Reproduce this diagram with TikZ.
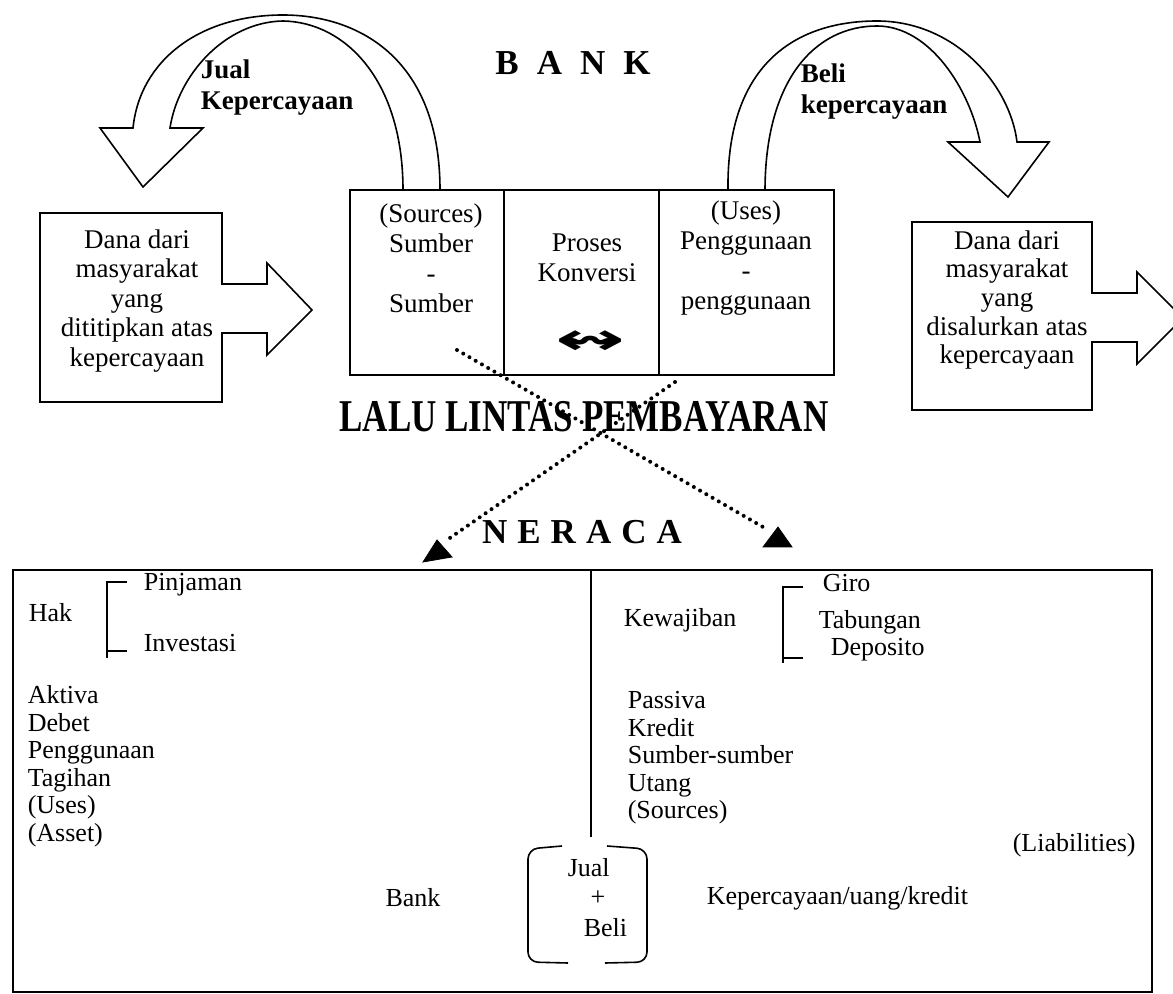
\documentclass[tikz,border=0pt]{standalone}
\usepackage{fontspec}
\setmainfont{Liberation Serif}
\newfontfamily\symfont{DejaVu Sans}
\begin{document}
\begin{tikzpicture}[x=0.5pt,y=-0.5pt,line width=0.8pt,
  txt/.style={inner sep=0pt,font=\fontsize{13}{13.75}\selectfont},
  boxtxt/.style={inner sep=0pt,align=center,font=\fontsize{13.5}{15}\selectfont},
  boldtxt/.style={inner sep=0pt,align=left,font=\bfseries\fontsize{13.5}{15.5}\selectfont},
  title/.style={inner sep=0pt,font=\bfseries\fontsize{17.5}{18}\selectfont},
  shapeline/.style={draw=black,fill=white,line width=0.8pt,line join=miter},
  dotline/.style={line width=2pt,line cap=round,dash pattern=on 0pt off 3.6pt},
  tri/.style={fill=black,draw=black,line width=0.4pt}]
\useasboundingbox (0,0) rectangle (1173,994);
\clip (0,0) rectangle (1173,994);

% curved arrows
\draw[shapeline] (440,190) .. controls (440,60) and (360,15) .. (283,15)
  .. controls (200,15) and (140,60) .. (133,128) -- (100,128) -- (143,187)
  -- (203,128) -- (170,128) .. controls (178,75) and (225,22) .. (283,21)
  .. controls (345,22) and (403,80) .. (403,190) -- cycle;
\draw[shapeline] (728,191) .. controls (726,60) and (800,21) .. (877,21)
  .. controls (955,21) and (1010,85) .. (1017,142) -- (1049,142) -- (1008,197)
  -- (948,142) -- (980,142) .. controls (970,90) and (930,26) .. (877,26)
  .. controls (815,26) and (765,80) .. (765,191) -- cycle;

% left box with arrow
\draw[shapeline] (40,213) -- (222,213) -- (222,284) -- (267,284) -- (267,263)
  -- (312,310) -- (267,355) -- (267,333) -- (222,333) -- (222,402) -- (40,402) -- cycle;
% right box with arrow
\draw[shapeline] (912,222) -- (1092,222) -- (1092,293) -- (1137,293) -- (1137,272)
  -- (1183,318) -- (1137,364) -- (1137,342) -- (1092,342) -- (1092,410) -- (912,410) -- cycle;

% center box
\draw[shapeline] (350,190) rectangle (834,375);
\draw (504,190) -- (504,375);
\draw (659,190) -- (659,375);

% texts top
\node[title] (bank) at (573,63) {B\hspace{9pt}A\hspace{9pt}N\hspace{9pt}K};
\node[boldtxt,anchor=west] (jual) at (200,88) {Jual\\Kepercayaan};
\node[boldtxt,anchor=west] (beli) at (800,92) {Beli\\kepercayaan};
\node[boxtxt,font=\fontsize{13.5}{14.75}\selectfont] (ldana) at (137,301) {Dana dari\\masyarakat\\yang\\dititipkan atas\\kepercayaan};
\node[boxtxt,font=\fontsize{13.5}{14.3}\selectfont] (rdana) at (1007,300) {Dana dari\\masyarakat\\yang\\disalurkan atas\\kepercayaan};
\node[boxtxt] (src) at (431,258) {(Sources)\\Sumber\\-\\Sumber};
\node[boxtxt] (proses) at (587,258) {Proses\\Konversi};
\node[inner sep=0pt] (konv) at (591,343) {\scalebox{1.9}[1]{\symfont\bfseries\fontsize{22}{22}\selectfont ↭}};
\node[boxtxt] (uses) at (746,258) {(Uses)\\Penggunaan\\-\\penggunaan};
\node[title] (llp) at (584,417) {\scalebox{1}[1.3]{LALU LINTAS PEMBAYARAN}};
\node[title] (neraca) at (582,532) {N\hspace{5pt}E\hspace{5pt}R\hspace{5pt}A\hspace{5pt}C\hspace{5pt}A};

% dotted connectors
\coordinate (d1s) at (457,350);
\coordinate (d1e) at (763,527);
\coordinate (d2s) at (675,382);
\coordinate (d2e) at (447,540);
\draw[dotline] (d1s) -- (d1e);
\draw[dotline] (d2s) -- (d2e);
\fill[tri] (423,562) -- (437,540) -- (452,557) -- cycle;
\fill[tri] (778,527) -- (763,547) -- (792,547) -- cycle;

% neraca box
\draw (13,570) rectangle (1152,992);
\draw (591,570) -- (591,837);

% left side
\node[txt,anchor=west] (hak) at (28,613) {Hak};
\draw (127,582) -- (107,582) -- (107,658);
\draw (107,651) -- (127,651);
\node[txt,anchor=west] (pinj) at (143,585) {Pinjaman};
\node[txt,anchor=west] (inv) at (143,643) {Investasi};
\node[txt,anchor=west,align=left] (aktiva) at (27,766) {Aktiva\\Debet\\Penggunaan\\Tagihan\\(Uses)\\(Asset)};
\node[txt] (bankb) at (413,898) {Bank};

% right side
\node[txt,anchor=west] (kew) at (623,620) {Kewajiban};
\draw (803,587) -- (783,587) -- (783,663);
\draw (783,658) -- (803,658);
\node[txt,anchor=west] (giro) at (822,583) {Giro};
\node[txt,anchor=west] (tab) at (818,622) {Tabungan};
\node[txt,anchor=west] (dep) at (830,650) {Deposito};
\node[txt,anchor=west,align=left] (passiva) at (627,758) {Passiva\\Kredit\\Sumber-sumber\\Utang\\(Sources)};
\node[txt,anchor=west] (liab) at (1012,845) {(Liabilities)};

% jual + beli
\draw[rounded corners=5pt] (562,846) -- (528,849) -- (528,962) -- (568,963);
\draw[rounded corners=5pt] (607,846) -- (647,849) -- (647,962) -- (605,963);
\node[txt,anchor=west] (jb1) at (567,868) {Jual};
\node[txt] (jb2) at (598,898) {+};
\node[txt,anchor=west] (jb3) at (583,928) {Beli};
\node[txt,anchor=west] (kuk) at (706,898) {Kepercayaan/uang/kredit};
\end{tikzpicture}
\end{document}
